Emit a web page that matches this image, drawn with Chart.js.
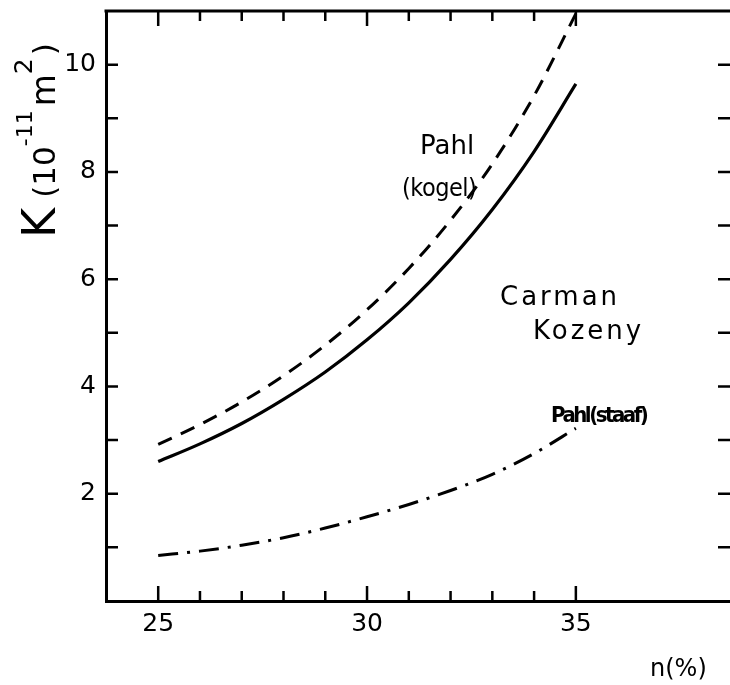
<!DOCTYPE html>
<html>
<head>
<meta charset="utf-8">
<script src="https://cdn.jsdelivr.net/npm/chart.js@4.4.1/dist/chart.umd.min.js"></script>
<style>
  html, body { margin: 0; padding: 0; background: #fff; overflow: hidden; }
  #wrap { width: 740px; height: 685px; }
</style>
</head>
<body>
<div id="wrap"><canvas id="c" width="740" height="685"></canvas></div>
<script>
// Porosity n (%) and permeability K (10^-11 m^2)
const porosity = [25, 26, 27, 28, 29, 30, 31, 32, 33, 34, 35];
const carmanKozeny = [2.6, 2.93, 3.31, 3.76, 4.27, 4.87, 5.56, 6.37, 7.3, 8.38, 9.64];
const pahlKogel = [2.92, 3.29, 3.71, 4.2, 4.77, 5.43, 6.2, 7.1, 8.15, 9.42, 10.95];
const pahlStaaf = [0.85, 0.93, 1.04, 1.18, 1.36, 1.57, 1.8, 2.06, 2.36, 2.75, 3.22];

const xTicks = [25, 26, 27, 28, 29, 30, 31, 32, 33, 34, 35];
const xLabelled = [25, 30, 35];
const yTicks = [1, 2, 3, 4, 5, 6, 7, 8, 9, 10];
const yLabelled = [2, 4, 6, 8, 10];

const FONT = "'DejaVu Sans', sans-serif";
const NARROW = "'DejaVu Sans Condensed', 'DejaVu Sans', sans-serif";

function pts(ys) { return porosity.map((x, i) => ({ x: x, y: ys[i] })); }

// Frame top edge, inward tick marks, axis title and curve captions
const decorations = {
  id: 'decorations',
  afterDraw(chart) {
    const { ctx, chartArea: a, scales: { x, y } } = chart;
    ctx.save();
    ctx.strokeStyle = '#000';
    ctx.lineCap = 'butt';
    // top frame line
    ctx.lineWidth = 3;
    ctx.beginPath();
    ctx.moveTo(a.left - 1.5, a.top);
    ctx.lineTo(a.right + 5, a.top);
    ctx.stroke();
    // x ticks, bottom and top, pointing inward
    ctx.lineWidth = 2.5;
    xTicks.forEach(v => {
      const px = x.getPixelForValue(v);
      const len = xLabelled.includes(v) ? 15 : 10;
      ctx.beginPath();
      ctx.moveTo(px, a.bottom); ctx.lineTo(px, a.bottom - len);
      ctx.moveTo(px, a.top); ctx.lineTo(px, a.top + len);
      ctx.stroke();
    });
    // y ticks, left and right
    yTicks.forEach(v => {
      const py = y.getPixelForValue(v);
      ctx.beginPath();
      ctx.moveTo(a.left, py); ctx.lineTo(a.left + 12, py);
      ctx.moveTo(730, py); ctx.lineTo(718, py);
      ctx.stroke();
    });

    ctx.fillStyle = '#000';
    // y axis title: K (10^-11 m^2)
    ctx.save();
    ctx.translate(55, 238);
    ctx.rotate(-Math.PI / 2);
    ctx.textBaseline = 'alphabetic';
    ctx.textAlign = 'left';
    let cx = 0;
    const piece = (t, size, rise) => {
      ctx.font = size + 'px ' + FONT;
      ctx.fillText(t, cx, -rise);
      cx += ctx.measureText(t).width;
    };
    piece('K', 46, 0); cx += 10;
    piece('(10', 31, 0);
    piece('-11', 22, 23);
    cx += 4;
    piece('m', 33, 0);
    piece('2', 25, 23);
    cx += 3;
    piece(')', 31, 0);
    ctx.restore();

    // x axis title
    ctx.font = '24px ' + FONT;
    ctx.textAlign = 'left';
    ctx.fillText('n(%)', 650, 676);

    // curve captions
    ctx.font = '26px ' + FONT;
    ctx.fillText('Pahl', 420, 154);
    ctx.font = '25px ' + NARROW;
    ctx.letterSpacing = '-0.5px';
    ctx.fillText('(kogel)', 402, 196);
    ctx.font = '26px ' + FONT;
    ctx.letterSpacing = '3px';
    ctx.fillText('Carman', 500, 305);
    ctx.fillText('Kozeny', 533, 339);
    ctx.font = 'bold 22px ' + NARROW;
    ctx.letterSpacing = '-2.5px';
    ctx.fillText('Pahl(staaf)', 551, 422);
    ctx.restore();
  }
};

const chart = new Chart(document.getElementById('c'), {
  type: 'line',
  data: {
    datasets: [
      { label: 'Pahl (kogel)', data: pts(pahlKogel), borderColor: '#000', borderWidth: 3,
        borderDash: [15, 10], pointRadius: 0, cubicInterpolationMode: 'monotone', fill: false },
      { label: 'Carman Kozeny', data: pts(carmanKozeny), borderColor: '#000', borderWidth: 3.2,
        pointRadius: 0, cubicInterpolationMode: 'monotone', fill: false },
      { label: 'Pahl (staaf)', data: pts(pahlStaaf), borderColor: '#000', borderWidth: 3,
        borderDash: [20, 9, 3, 9], pointRadius: 0, cubicInterpolationMode: 'monotone', fill: false }
    ]
  },
  options: {
    responsive: false,
    animation: false,
    layout: { padding: { top: 11, right: 0, left: 0, bottom: 0 } },
    plugins: { legend: { display: false }, tooltip: { enabled: false } },
    scales: {
      x: {
        type: 'linear', min: 23.75, max: 38.93,
        afterBuildTicks: s => { s.ticks = xLabelled.map(v => ({ value: v })); },
        afterFit: s => { s.height = 84; s.paddingLeft = 0; s.paddingRight = 0; },
        grid: { display: false, drawTicks: false },
        border: { display: true, color: '#000', width: 3 },
        ticks: { color: '#000', padding: 8, font: { family: FONT, size: 25 }, maxRotation: 0, autoSkip: false }
      },
      y: {
        type: 'linear', min: 0, max: 11,
        afterBuildTicks: s => { s.ticks = yLabelled.map(v => ({ value: v })); },
        afterFit: s => { s.width = 106; s.paddingTop = 0; s.paddingBottom = 0; },
        grid: { display: false, drawTicks: false },
        border: { display: true, color: '#000', width: 3 },
        ticks: { color: '#000', padding: 10, font: { family: FONT, size: 25 } }
      }
    }
  },
  plugins: [decorations]
});
</script>
</body>
</html>
